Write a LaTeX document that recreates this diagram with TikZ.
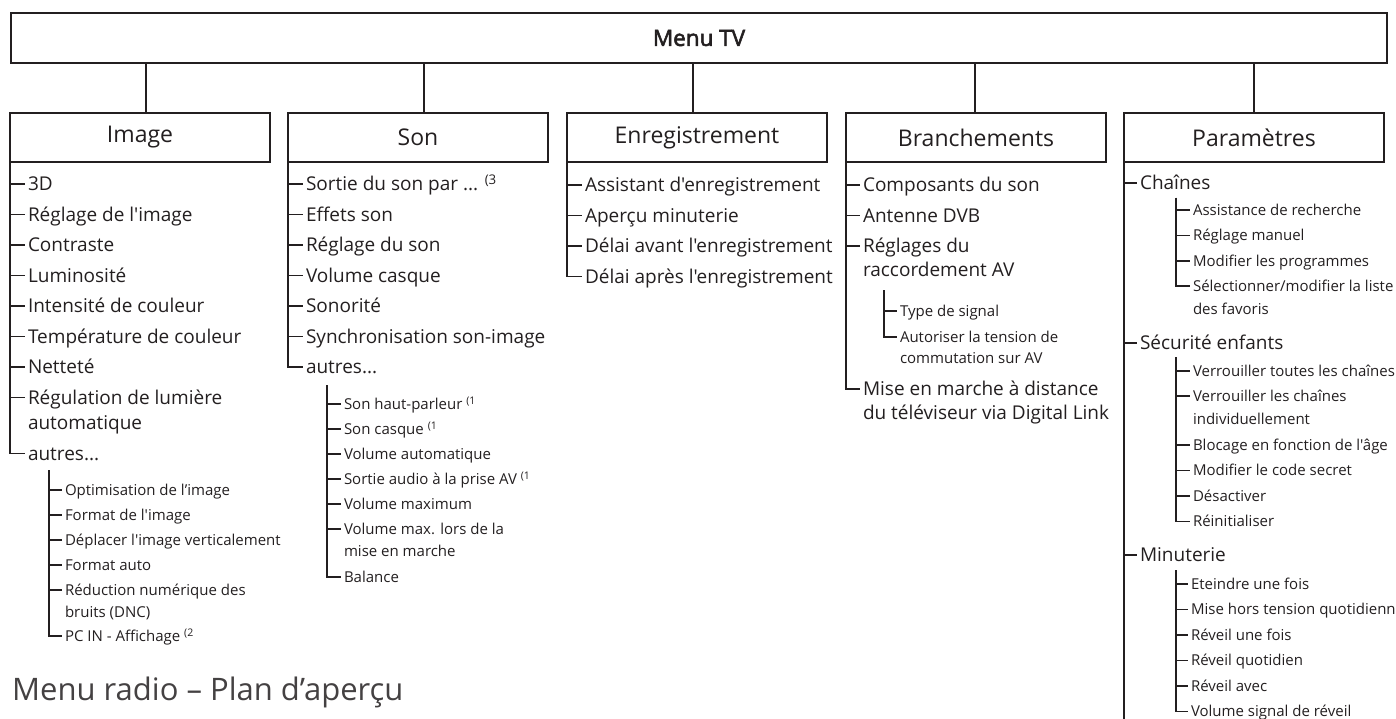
\documentclass[tikz,border=0pt]{standalone}
\usepackage{fontspec}
\newfontfamily\menufont{Open Sans}
\newfontfamily\menubold{Open Sans}[FakeBold=2.5]
\definecolor{ink}{HTML}{231F20}

\tikzset{
    headbox/.style={draw=ink, line width=2pt, outer sep=0pt, inner sep=0pt,
        minimum width=260pt, minimum height=49pt, text=ink,
        font=\menufont\fontsize{23}{27}\selectfont},
    entry/.style={anchor=west, inner xsep=3pt, inner ysep=0pt, outer sep=0pt,
        text=ink, text height=13.6pt, text depth=0pt,
        font=\menufont\fontsize{19}{23}\selectfont},
    subentry/.style={entry, text height=10.7pt,
        font=\menufont\fontsize{15}{18}\selectfont},
    link/.style={draw=ink, line width=1.8pt},
    sublink/.style={draw=ink, line width=1.2pt},
}

\begin{document}
\begin{tikzpicture}[x=1pt, y=-1pt]
    \useasboundingbox (0,0) rectangle (1396,719);

    % Menu TV
    \node[headbox, minimum width=1376pt, minimum height=50pt,
        font=\menubold\fontsize{22.5}{26}\selectfont] (tv) at (699,38) {Menu TV};

    % Sub menus
    \foreach \n/\x/\dx/\t in {image/140/6/Image, son/418/6/Son, enr/697/-4/Enregistrement,
        bran/976/-1/Branchements, param/1254/0/Paramètres}
    {
        \node[headbox] (\n) at (\x,137.5) {\t};
        \coordinate (\n top) at ([xshift=\dx pt]\n.north);
        \draw[link] (\n top) -- (\n top |- tv.south);
    }

    % Image
    \foreach \y/\n/\t in {184/img1/3D, 214.5/img2/Réglage de l'image, 245/img3/Contraste,
        275.5/img4/Luminosité, 306/img5/Intensité de couleur,
        336.5/img6/Température de couleur, 367/img7/Netteté,
        397.5/img8/Régulation de lumière}
    {
        \node[entry] (\n) at (25,\y) {\t};
        \draw[link] (image.south west) |- (\n.west);
    }
    \node[entry] (img8b) at (25,423) {automatique};
    \node[entry] (img9) at (25,453.5) {autres...};
    \draw[link] (image.south west) |- (img9.west);

    \coordinate (imgsub) at (49,470);
    \foreach \y/\n/\t in {490/imo1/Optimisation de l’image, 515/imo2/Format de l'image,
        540/imo3/Déplacer l'image verticalement, 565/imo4/Format auto,
        590/imo5/Réduction numérique des}
    {
        \node[subentry] (\n) at (62,\y) {\t};
        \draw[sublink] (imgsub) |- (\n.west);
    }
    \node[subentry] (imo5b) at (62,612) {bruits (DNC)};
    \node[subentry] (imo6) at (62,636) {PC IN - Affichage \textsuperscript{(2}};
    \draw[sublink] (imgsub) |- (imo6.west);

    % Son
    \node[entry] (son1) at (303,184) {Sortie du son par ... \textsuperscript{(3}};
    \draw[link] (son.south west) |- (son1.west);
    \foreach \y/\n/\t in {214.5/son2/Effets son, 245/son3/Réglage du son,
        275.5/son4/Volume casque, 306/son5/Sonorité,
        336.5/son6/Synchronisation son-image}
    {
        \node[entry] (\n) at (303,\y) {\t};
        \draw[link] (son.south west) |- (\n.west);
    }
    \node[entry] (son7) at (303,367) {autres...};
    \draw[link] (son.south west) |- (son7.west);

    \coordinate (sonsub) at (327,385);
    \foreach \y/\n/\t in {404/sno1/Son haut-parleur \textsuperscript{(1},
        429/sno2/Son casque \textsuperscript{(1}, 454/sno3/Volume automatique,
        479/sno4/Sortie audio à la prise AV \textsuperscript{(1},
        504/sno5/Volume maximum, 529/sno6/Volume max. lors de la, 577/sno7/Balance}
    {
        \node[subentry] (\n) at (341,\y) {\t};
        \draw[sublink] (sonsub) |- (\n.west);
    }
    \node[subentry] (sno6b) at (341,551) {mise en marche};

    % Enregistrement
    \foreach \y/\n/\t in {185/enr1/Assistant d'enregistrement,
        215.5/enr2/Aperçu minuterie, 246/enr3/Délai avant l'enregistrement,
        276.5/enr4/Délai après l'enregistrement}
    {
        \node[entry] (\n) at (582,\y) {\t};
        \draw[link] (enr.south west) |- (\n.west);
    }

    % Branchements
    \foreach \y/\n/\t in {185/bra1/Composants du son, 215.5/bra2/Antenne DVB,
        246/bra3/Réglages du, 389/bra4/Mise en marche à distance}
    {
        \node[entry] (\n) at (860,\y) {\t};
        \draw[link] (bran.south west) |- (\n.west);
    }
    \node[entry] (bra3b) at (860,270) {raccordement AV};
    \node[entry] (bra4b) at (860,413) {du téléviseur via Digital Link};

    \coordinate (brasub) at (884,290);
    \foreach \y/\n/\t in {311/brs1/Type de signal, 337/brs2/Autoriser la tension de}
    {
        \node[subentry] (\n) at (897,\y) {\t};
        \draw[sublink] (brasub) |- (\n.west);
    }
    \node[subentry] (brs2b) at (897,358) {commutation sur AV};

    % Paramètres
    \foreach \y/\n/\t in {183/par1/Chaînes, 343/par2/Sécurité enfants, 555/par3/Minuterie}
    {
        \node[entry] (\n) at (1137,\y) {\t};
        \draw[link] (param.south west) |- (\n.west);
    }
    \coordinate (paramend) at (1124,725);
    \draw[link] (param.south west) -- (paramend);

    \coordinate (chsub) at (1176,198);
    \foreach \y/\n/\t in {210/cha1/Assistance de recherche, 235.5/cha2/Réglage manuel,
        261/cha3/Modifier les programmes}
    {
        \node[subentry] (\n) at (1190,\y) {\t};
        \draw[sublink] (chsub) |- (\n.west);
    }
    \node[subentry] (cha4) at (1190,286) {Sélectionner/modifier la liste};
    \node[subentry] (cha4b) at (1190,309) {des favoris};
    \draw[sublink] (chsub) |- (cha4.west);

    \coordinate (secsub) at (1176,357);
    \foreach \y/\n/\t in {371/sec1/Verrouiller toutes les chaînes,
        396/sec2/Verrouiller les chaînes, 445/sec3/Blocage en fonction de l'âge,
        470.5/sec4/Modifier le code secret, 496/sec5/Désactiver,
        521.5/sec6/Réinitialiser}
    {
        \node[subentry] (\n) at (1190,\y) {\t};
        \draw[sublink] (secsub) |- (\n.west);
    }
    \node[subentry] (sec2b) at (1190,419) {individuellement};

    \coordinate (minsub) at (1176,570);
    \foreach \y/\n/\t in {584/min1/Eteindre une fois, 609.5/min2/Mise hors tension quotidienne,
        635/min3/Réveil une fois, 660.5/min4/Réveil quotidien, 686/min5/Réveil avec,
        711.5/min6/Volume signal de réveil}
    {
        \node[subentry] (\n) at (1188,\y) {\t};
        \draw[sublink] (minsub) |- (\n.west);
    }

    % Menu radio
    \node[anchor=base west, inner sep=0pt, text=ink!85,
        font=\menufont\fontsize{31}{37}\selectfont] (radio) at (12,700)
        {Menu radio – Plan d’aperçu};

\end{tikzpicture}
\end{document}
